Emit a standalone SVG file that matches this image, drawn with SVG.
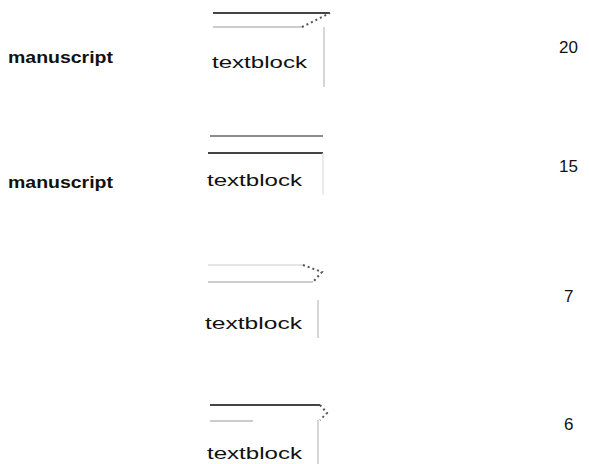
<svg xmlns="http://www.w3.org/2000/svg" width="589" height="464" viewBox="0 0 589 464">
<style>
.lbl{font-family:"Liberation Sans",Arial,sans-serif;font-size:16px;fill:#111}
.bold{font-weight:bold}
.tb{font-family:"Liberation Sans",Arial,sans-serif;font-size:17px;fill:#111}
.num{font-family:"Liberation Sans",Arial,sans-serif;font-size:17px;fill:#111}
.dk{stroke:#444;stroke-width:2;fill:none}
.lt{stroke:#999;stroke-width:1.2;fill:none}
.vl{stroke:#bbb;stroke-width:1.2;fill:none}
.dot{stroke:#555;stroke-width:2;stroke-dasharray:2 3;fill:none}
</style>
<rect width="589" height="464" fill="#fff"/>
<g id="row1">
<text class="lbl bold" x="8" y="63" textLength="105" lengthAdjust="spacingAndGlyphs">manuscript</text>
<line class="dk" x1="213" y1="13" x2="330" y2="13"/>
<line class="lt" x1="213" y1="27" x2="302" y2="27"/>
<line class="dot" x1="302" y1="27" x2="330" y2="13"/>
<line class="vl" x1="324" y1="27" x2="324" y2="87"/>
<text class="tb" x="212" y="68" textLength="95" lengthAdjust="spacingAndGlyphs">textblock</text>
<text class="num" x="559" y="53">20</text>
</g>
<g id="row2">
<text class="lbl bold" x="8" y="188" textLength="105" lengthAdjust="spacingAndGlyphs">manuscript</text>
<line class="dk" x1="210" y1="136" x2="323" y2="136" style="stroke:#666;stroke-width:1.6"/>
<line class="dk" x1="208" y1="153" x2="323" y2="153"/>
<line class="vl" x1="323" y1="153" x2="323" y2="195" style="stroke:#ddd"/>
<text class="tb" x="207" y="186" textLength="95" lengthAdjust="spacingAndGlyphs">textblock</text>
<text class="num" x="559" y="172">15</text>
</g>
<g id="row3">
<line class="lt" x1="208" y1="265" x2="303" y2="265" style="stroke:#ccc"/>
<line class="lt" x1="208" y1="282" x2="313" y2="282"/>
<polyline class="dot" points="303,265 322,272 313,282"/>
<line class="vl" x1="318" y1="300" x2="318" y2="338"/>
<text class="tb" x="205" y="329" textLength="97" lengthAdjust="spacingAndGlyphs">textblock</text>
<text class="num" x="564" y="302">7</text>
</g>
<g id="row4">
<line class="dk" x1="210" y1="405" x2="320" y2="405"/>
<line class="lt" x1="210" y1="421" x2="253" y2="421"/>
<polyline class="dot" points="320,405 327,413 320,420"/>
<line class="vl" x1="318" y1="420" x2="318" y2="464"/>
<text class="tb" x="207" y="459" textLength="95" lengthAdjust="spacingAndGlyphs">textblock</text>
<text class="num" x="564" y="430">6</text>
</g>
</svg>
